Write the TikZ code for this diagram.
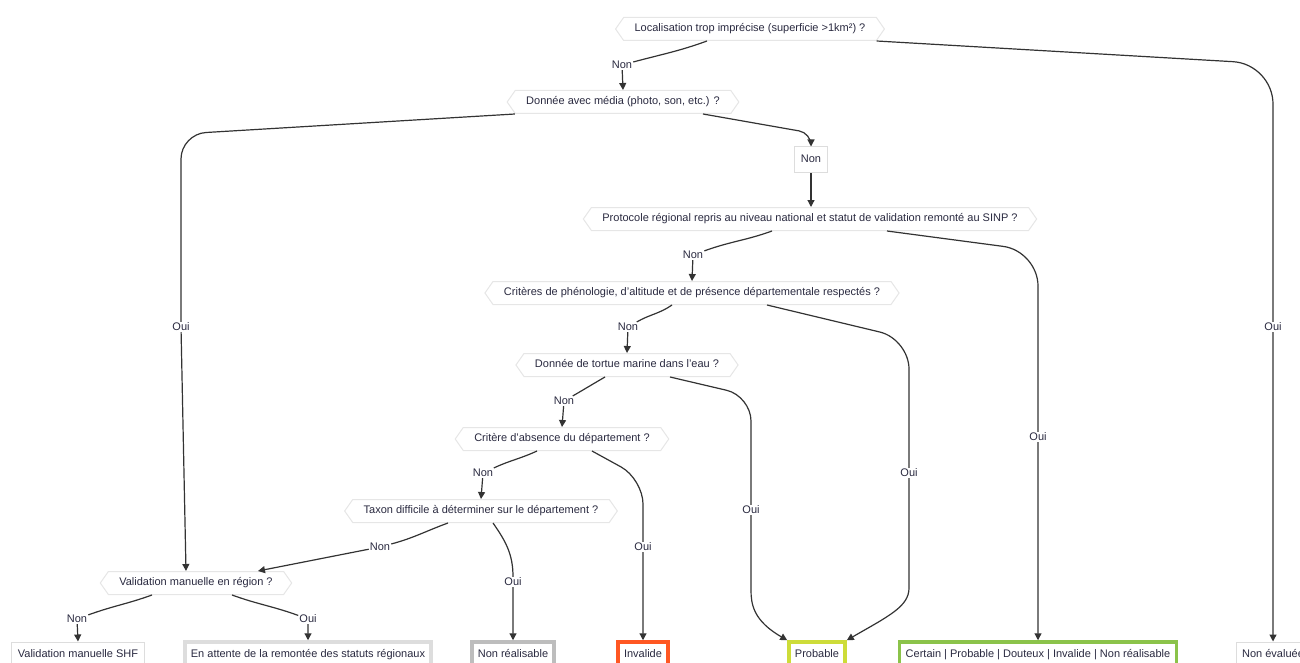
\documentclass[tikz,border=0pt]{standalone}
\usepackage{fontspec}
\setmainfont{Liberation Sans}
\usetikzlibrary{shapes.symbols,arrows.meta}
\definecolor{txt}{HTML}{2A2A40}
\definecolor{edgeline}{HTML}{333333}
\definecolor{hexline}{HTML}{E6E6E6}
\definecolor{boxline}{HTML}{DDDDDD}
\definecolor{nonrealline}{HTML}{BDBDBD}
\definecolor{invalidline}{HTML}{FF5722}
\definecolor{probline}{HTML}{CDDC39}
\definecolor{certline}{HTML}{8BC34A}
\begin{document}
\begin{tikzpicture}[
	x=1pt, y=1pt,
	every node/.style={ font=\fontsize{11}{13}\selectfont, text=txt },
	decision/.style={ signal, signal to=east and west, signal pointer angle=110, draw=hexline, line width=1pt, fill=white, inner xsep=11pt, inner ysep=6.25pt, text height=8pt, text depth=2.5pt },
	leaf/.style={ rectangle, draw=#1, line width=1pt, fill=white, inner xsep=6pt, minimum height=26pt, text height=8pt, text depth=2.5pt },
	leaf/.default=boxline,
	leafk/.style={ leaf=#1, line width=3.5pt },
	lbl/.style={ fill=white, inner sep=1pt },
	flow/.style={ draw=edgeline, line width=1.2pt, -{Triangle[length=7pt,width=7pt]} }
]
\useasboundingbox (0,0) rectangle (1300,-663);

\node at (750,-29) (loc) [decision] {Localisation trop imprécise (superficie >1km²) ?};
\node at (623,-102) (media) [decision] {Donnée avec média (photo, son, etc.) ?};
\node at (811,-160) (nonmedia) [leaf] {Non};
\node at (810,-219) (proto) [decision] {Protocole régional repris au niveau national et statut de validation remonté au SINP ?};
\node at (692,-293) (pheno) [decision] {Critères de phénologie, d'altitude et de présence départementale respectés ?};
\node at (627,-365) (tortue) [decision] {Donnée de tortue marine dans l'eau ?};
\node at (562,-439) (absence) [decision] {Critère d'absence du département ?};
\node at (481,-511) (taxon) [decision] {Taxon difficile à déterminer sur le département ?};
\node at (196,-583) (valreg) [decision] {Validation manuelle en région ?};

\node at (78,-655) (shf) [leaf] {Validation manuelle SHF};
\node at (308,-655) (attente) [leafk=boxline] {En attente de la remontée des statuts régionaux};
\node at (513,-655) (nonreal) [leafk=nonrealline] {Non réalisable};
\node at (643,-655) (invalide) [leafk=invalidline] {Invalide};
\node at (817,-655) (probable) [leafk=probline] {Probable};
\node at (1038,-655) (certain) [leafk=certline] {Certain | Probable | Douteux | Invalide | Non réalisable};
\node at (1273,-655) (noneval) [leaf] {Non évaluée};

\node at (622,-65) (lLoc) [lbl] {Non};
\node at (1273,-327) (lLocOui) [lbl] {Oui};
\node at (181,-327) (lMediaOui) [lbl] {Oui};
\node at (693,-255) (lProto) [lbl] {Non};
\node at (1038,-437) (lProtoOui) [lbl] {Oui};
\node at (628,-327) (lPheno) [lbl] {Non};
\node at (909,-473) (lPhenoOui) [lbl] {Oui};
\node at (564,-401) (lTortue) [lbl] {Non};
\node at (751,-510) (lTortueOui) [lbl] {Oui};
\node at (483,-473) (lAbsence) [lbl] {Non};
\node at (643,-547) (lAbsenceOui) [lbl] {Oui};
\node at (380,-547) (lTaxon) [lbl] {Non};
\node at (513,-582) (lTaxonOui) [lbl] {Oui};
\node at (77,-619) (lValreg) [lbl] {Non};
\node at (308,-619) (lValregOui) [lbl] {Oui};

\coordinate (kLoc) at (1273,-64);
\coordinate (kMedia) at (181,-134);
\coordinate (kNon) at (811,-133);
\coordinate (kProto) at (1038,-251);
\coordinate (kPheno) at (909,-339);
\coordinate (kTortue) at (751,-396);
\coordinate (kAbsence) at (643,-479);

\draw[flow] ([xshift=-43pt]loc.south) to[out=200,in=15] (lLoc) -- (media.north);
\draw[flow,rounded corners=40pt] (loc.south east) -- (kLoc) -- (lLocOui) -- (noneval.north);
\draw[flow,rounded corners=25pt] (media.south west) -- (kMedia) -- (lMediaOui) -- ([xshift=-10pt]valreg.north);
\draw[flow,rounded corners=12pt] ([xshift=80pt]media.south) -- (kNon) -- (nonmedia.north);
\draw[flow] (nonmedia.south) -- (nonmedia.south |- proto.north);
\draw[flow] ([xshift=-38pt]proto.south) to[out=200,in=20] (lProto) -- (pheno.north);
\draw[flow,rounded corners=35pt] ([xshift=77pt]proto.south) -- (kProto) -- (lProtoOui) -- (certain.north);
\draw[flow] ([xshift=-20pt]pheno.south) to[out=215,in=30] (lPheno) -- (tortue.north);
\draw[flow,rounded corners=30pt] ([xshift=75pt]pheno.south) -- (kPheno) -- (lPhenoOui) -- ++(0,-85) to[out=-90,in=30,looseness=1.2] (probable.north east);
\draw[flow] ([xshift=-22pt]tortue.south) to[out=210,in=30] (lTortue) -- (absence.north);
\draw[flow,rounded corners=25pt] ([xshift=43pt]tortue.south) -- (kTortue) -- (lTortueOui) -- ++(0,-55) to[out=-90,in=150,looseness=1.2] (probable.north west);
\draw[flow] ([xshift=-25pt]absence.south) to[out=205,in=25] (lAbsence) -- (taxon.north);
\draw[flow,rounded corners=25pt] ([xshift=30pt]absence.south) -- (kAbsence) -- (lAbsenceOui) -- (invalide.north);
\draw[flow] ([xshift=-33pt]taxon.south) to[out=200,in=15] (lTaxon) -- ([xshift=62pt]valreg.north);
\draw[flow] ([xshift=12pt]taxon.south) to[out=-55,in=90] (lTaxonOui) -- (nonreal.north);
\draw[flow] ([xshift=-44pt]valreg.south) to[out=200,in=20] (lValreg) -- (shf.north);
\draw[flow] ([xshift=36pt]valreg.south) to[out=-20,in=160] (lValregOui) -- (attente.north);

\end{tikzpicture}
\end{document}
